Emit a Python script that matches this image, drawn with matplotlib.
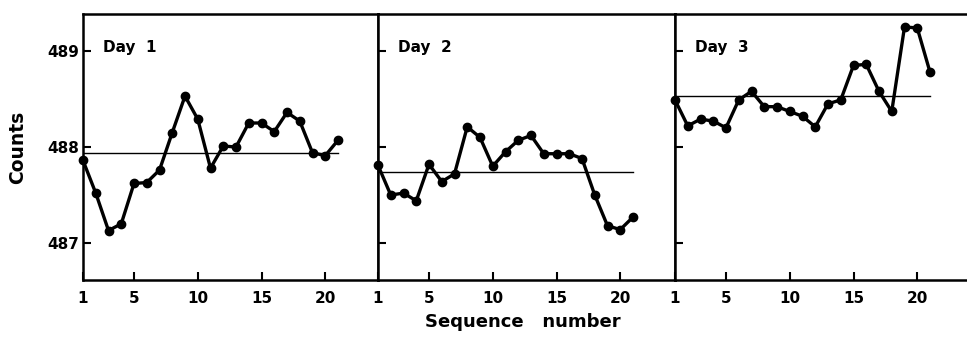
import numpy as np
import matplotlib.pyplot as plt

# data
seq = np.arange(1, 22)
day1 = [487.86, 487.52, 487.13, 487.20, 487.62, 487.63, 487.76, 488.15, 488.53, 488.29,
        487.78, 488.01, 488.00, 488.25, 488.25, 488.16, 488.36, 488.27, 487.94, 487.91, 488.07]
day2 = [487.81, 487.50, 487.52, 487.44, 487.82, 487.64, 487.72, 488.21, 488.10, 487.80,
        487.95, 488.07, 488.12, 487.93, 487.93, 487.93, 487.88, 487.50, 487.18, 487.14, 487.27]
day3 = [488.49, 488.22, 488.29, 488.27, 488.20, 488.49, 488.58, 488.42, 488.42, 488.37,
        488.32, 488.21, 488.45, 488.49, 488.85, 488.86, 488.58, 488.37, 489.25, 489.24, 488.78]
means = [487.94, 487.74, 488.53]
days = ["Day  1", "Day  2", "Day  3"]
series = [day1, day2, day3]
xticks = [1, 5, 10, 15, 20]
yticks = [487, 488, 489]

W, H = 967, 339
fig = plt.figure(figsize=(W / 100, H / 100), dpi=100)

# panel edges in pixels
edges = [(83, 378), (378, 675), (675, 967)]
top, bot = 14, 280
px_per_unit = 12.75

for k, (l, r) in enumerate(edges):
    ax = fig.add_axes([l / W, 1 - bot / H, (r - l) / W, (bot - top) / H])
    ax.plot(seq, series[k], color='black', lw=2.4, marker='o', ms=6, clip_on=False, zorder=3)
    ax.plot([1, 21], [means[k]] * 2, color='black', lw=1.0)
    ax.set_xlim(1, 1 + (r - l) / px_per_unit)
    ax.set_ylim(486.615, 489.385)
    ax.set_xticks(xticks)
    ax.set_xticklabels([str(t) for t in xticks], fontsize=11, fontweight='bold')
    ax.set_yticks(yticks)
    if k == 0:
        ax.set_yticklabels([str(t) for t in yticks], fontsize=11, fontweight='bold')
        ax.set_ylabel("Counts", fontsize=13.5, fontweight='bold', labelpad=14)
    else:
        ax.set_yticklabels([])
    ax.tick_params(direction='in', length=6, width=1.5, pad=8)
    ax.tick_params(axis='y', pad=3)
    for s in ax.spines.values():
        s.set_linewidth(1.8)
    if k == 2:
        ax.spines['right'].set_visible(False)
    ax.text(2.55, 489.04, days[k], fontsize=11, fontweight='bold', va='center', ha='left')

fig.text(523 / W, 1 - 322 / H, "Sequence   number", fontsize=13, fontweight='bold',
         ha='center', va='center')

plt.savefig("out.png", dpi=100)
